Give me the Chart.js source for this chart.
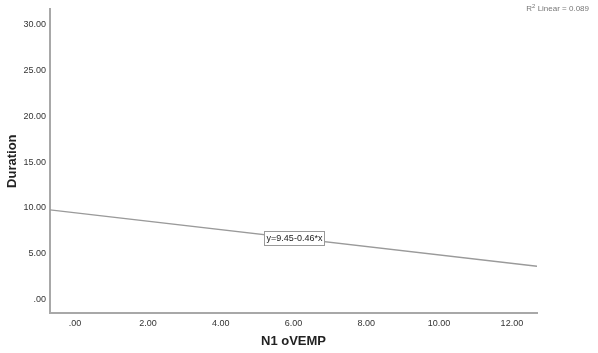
<!DOCTYPE html>
<html>
<head>
<meta charset="utf-8">
<script src="https://cdn.jsdelivr.net/npm/chart.js@4"></script>
<style>
    html, body { margin: 0; padding: 0; background: #fff; }
    #wrap { width: 598px; height: 353px; position: relative; }
</style>
</head>
<body>
<div id="wrap"><canvas id="chart"></canvas></div>
<script>
// 数据
const lineX = [-0.69, 12.69];
const lineY = [9.77, 3.61];
const xTicks = [0, 2, 4, 6, 8, 10, 12];
const yTicks = [0, 5, 10, 15, 20, 25, 30];
const eqLabel = 'y=9.45-0.46*x';
const eqAt = [6, 6.69];
const r2Text = ' Linear = 0.089';

const FONT = '"Liberation Sans", Arial, sans-serif';

function fmt(v) {
    return v.toFixed(2).replace(/^0\./, '.');
}

// 方程标签和 R² 文字
const annotate = {
    id: 'annotate',
    afterDatasetsDraw(chart) {
        const ctx = chart.ctx;
        const xs = chart.scales.x, ys = chart.scales.y;
        const px = Math.round(xs.getPixelForValue(eqAt[0]));
        const py = Math.round(ys.getPixelForValue(eqAt[1]));
        ctx.save();
        ctx.font = '9px ' + FONT;
        const w = Math.round(ctx.measureText(eqLabel).width + 4);
        const h = 14;
        const bx = px - Math.round(w / 2), by = py - h / 2;
        ctx.fillStyle = '#fff';
        ctx.fillRect(bx, by, w, h);
        ctx.strokeStyle = '#9a9a9a';
        ctx.lineWidth = 1;
        ctx.strokeRect(bx + 0.5, by + 0.5, w, h);
        ctx.fillStyle = '#222';
        ctx.textAlign = 'center';
        ctx.textBaseline = 'middle';
        ctx.fillText(eqLabel, px + 0.5, py + 1);

        // R² Linear，右对齐
        ctx.fillStyle = '#777';
        ctx.textAlign = 'left';
        ctx.textBaseline = 'middle';
        ctx.font = '8px ' + FONT;
        const wR = ctx.measureText('R').width;
        const wT = ctx.measureText(r2Text).width;
        ctx.font = '6px ' + FONT;
        const w2 = ctx.measureText('2').width;
        let x = 589 - (wR + w2 + wT);
        ctx.font = '8px ' + FONT;
        ctx.fillText('R', x, 9);
        x += wR;
        ctx.font = '6px ' + FONT;
        ctx.fillText('2', x, 6);
        x += w2;
        ctx.font = '8px ' + FONT;
        ctx.fillText(r2Text, x, 9);
        ctx.restore();
    }
};

const ctx = document.getElementById('chart').getContext('2d');
new Chart(ctx, {
    type: 'scatter',
    data: {
        datasets: [{
            data: lineX.map((x, i) => ({ x: x, y: lineY[i] })),
            showLine: true,
            borderColor: '#9a9a9a',
            borderWidth: 1.3,
            pointRadius: 0
        }]
    },
    options: {
        responsive: true,
        maintainAspectRatio: false,
        animation: false,
        layout: { padding: { top: 2, right: 61, left: 5, bottom: 0 } },
        plugins: {
            legend: { display: false },
            tooltip: { enabled: false }
        },
        scales: {
            x: {
                type: 'linear',
                min: -0.69,
                max: 12.69,
                grid: { display: false, drawTicks: false },
                border: { display: true, color: '#a8a8a8', width: 2 },
                afterBuildTicks: (s) => { s.ticks = xTicks.map(v => ({ value: v })); },
                afterFit: (s) => { s.height = 40; },
                ticks: {
                    color: '#333',
                    font: { family: FONT, size: 9 },
                    padding: 5,
                    maxRotation: 0,
                    callback: (v) => fmt(v)
                },
                title: {
                    display: true,
                    text: 'N1 oVEMP',
                    color: '#222',
                    font: { family: FONT, size: 13, weight: 'bold' },
                    padding: { top: 4, bottom: 4 }
                }
            },
            y: {
                type: 'linear',
                min: -1.5,
                max: 31.7,
                grid: { display: false, drawTicks: false },
                border: { display: true, color: '#a8a8a8', width: 2 },
                afterBuildTicks: (s) => { s.ticks = yTicks.map(v => ({ value: v })); },
                afterFit: (s) => { s.width = 45; },
                ticks: {
                    color: '#333',
                    font: { family: FONT, size: 9 },
                    padding: 4,
                    callback: (v) => fmt(v)
                },
                title: {
                    display: true,
                    text: 'Duration',
                    color: '#222',
                    font: { family: FONT, size: 13, weight: 'bold' },
                    padding: { top: 0, bottom: 0 }
                }
            }
        }
    },
    plugins: [annotate]
});
</script>
</body>
</html>
